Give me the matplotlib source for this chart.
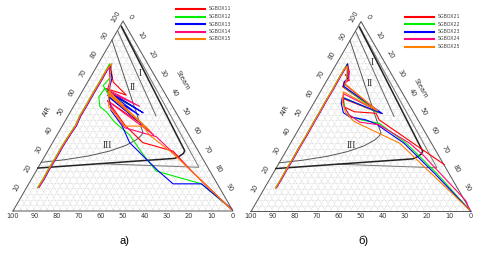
import matplotlib
matplotlib.use("Agg")
import matplotlib.pyplot as plt

# ---------------- data (AIR %, Steam %) ----------------
series_a_names = ["SGBOX11", "SGBOX12", "SGBOX13", "SGBOX14", "SGBOX15"]
series_b_names = ["SGBOX21", "SGBOX22", "SGBOX23", "SGBOX24", "SGBOX25"]
colors = ["#ff0000", "#00ee00", "#0000ff", "#ff0a78", "#ff8000"]

# panel a)
a11_air = [12.5, 17, 22, 28, 34, 40, 45, 50, 56, 62, 68, 74, 77, 68, 61, 64.5, 62, 45, 58, 45, 36, 31.5, 20, 1]
a11_stm = [5.3, 5.5, 5.3, 5.5, 5.4, 5.7, 6.1, 5.5, 5.6, 5.5, 5.6, 5.5, 5.6, 11.5, 21, 10, 12.5, 37, 14, 28.5, 41, 57, 72, 98.6]
a12_air = [12.3, 17, 22, 28, 34, 40, 45, 50, 56, 62, 68, 74, 77.5, 70, 66, 62, 54, 64.5, 60, 55, 52, 47, 40, 30, 21, 14.3, 1]
a12_stm = [5.0, 5.2, 5.0, 5.2, 5.1, 5.4, 5.8, 5.2, 5.3, 5.2, 5.3, 5.2, 5.2, 9, 8, 12, 29, 9.5, 9, 12, 16.6, 22.5, 33, 44, 54.6, 78.5, 98.8]
a13_air = [12.6, 17, 22, 28, 34, 40, 45, 50, 56, 62, 68, 74, 76.5, 70, 63, 51.7, 62, 50.5, 61, 44, 60, 55, 53, 45, 36, 21.2, 14.3, 14.3, 1]
a13_stm = [5.6, 5.8, 5.6, 5.8, 5.7, 6.0, 6.4, 5.8, 5.9, 5.8, 5.9, 5.8, 5.9, 10, 12, 33.3, 13, 32, 12.5, 38.5, 13.5, 17, 18, 27, 35, 55.3, 65.6, 78.5, 99]
a14_air = [12.4, 17, 22, 28, 34, 40, 45, 50, 56, 62, 68, 74, 76, 68, 64, 55.1, 63, 40, 58, 52, 43.8, 39.1, 29, 15, 1]
a14_stm = [5.45, 5.65, 5.45, 5.65, 5.55, 5.85, 6.25, 5.65, 5.75, 5.65, 5.75, 5.65, 5.8, 10, 11, 30, 11.5, 44, 14, 20, 28.9, 45.6, 59.7, 79, 98.7]
a15_air = [12.2, 17, 22, 28, 34, 40, 45, 50, 56, 62, 68, 74, 77.7, 70, 62, 42, 61, 56, 63, 55, 44.7, 44.7, 40, 30, 15, 1]
a15_stm = [5.15, 5.35, 5.15, 5.35, 5.25, 5.55, 5.95, 5.35, 5.45, 5.35, 5.45, 5.35, 6.1, 9, 13, 41.5, 13, 22, 12, 16, 28.5, 36.8, 42, 58, 79, 98.6]

# panel б)
b21_air = [12.5, 17, 22, 28, 34, 40, 46, 52, 58, 64, 70, 75, 77.7, 73.4, 70.8, 72, 69, 68.2, 65.6, 51.7, 59.5, 55, 52.5, 51.7, 48.2, 36, 24.7]
b21_stm = [5.1, 5.2, 5.1, 5.2, 5.1, 5.2, 5.1, 5.1, 5.0, 5.1, 5.0, 5.0, 5.0, 8.0, 8.8, 7, 10.2, 8.3, 8.9, 33, 12, 15, 20.7, 31, 34.2, 55.6, 75.5]
b22_air = [12.4, 17, 22, 28, 34, 40, 46, 52, 58, 64, 70, 75, 77.2, 71, 68, 65.6, 52, 60, 55, 50, 48, 46.4, 36, 20, 0.4]
b22_stm = [4.9, 5.0, 4.9, 5.0, 4.9, 5.0, 4.9, 4.9, 4.8, 4.9, 4.8, 4.8, 5.0, 8.5, 9, 9.5, 32, 12, 15, 20, 27, 35.1, 52.5, 74.5, 99.4]
b23_air = [12.6, 17, 22, 28, 34, 40, 46, 52, 58, 64, 70, 75, 77.7, 73, 70.5, 68.2, 66, 51.5, 60, 57, 52, 49.9, 48.2, 46, 36, 20, 0]
b23_stm = [5.3, 5.4, 5.3, 5.4, 5.3, 5.4, 5.3, 5.3, 5.2, 5.3, 5.2, 5.2, 5.1, 7.5, 9, 8.3, 9, 34, 11.5, 12.5, 16, 19.7, 28.2, 34, 51.5, 73.5, 100]
b24_air = [12.5, 17, 22, 28, 34, 40, 46, 52, 58, 64, 70, 75, 76.5, 73, 70, 67, 53, 62, 56, 51, 47, 45.6, 36, 30, 5.6, 0.8]
b24_stm = [5.2, 5.3, 5.2, 5.3, 5.2, 5.3, 5.2, 5.2, 5.1, 5.2, 5.1, 5.1, 5.5, 8, 9.5, 9, 31, 11, 14, 19, 26, 35.5, 54, 63, 94.9, 99]
b25_air = [12.3, 17, 22, 28, 34, 40, 46, 52, 58, 64, 70, 75, 76.5, 71, 67, 53, 63, 58, 52, 47.3, 36, 0.5]
b25_stm = [5.0, 5.1, 5.0, 5.1, 5.0, 5.1, 5.0, 5.0, 4.9, 5.0, 4.9, 4.9, 5.5, 8, 9.5, 31, 10.5, 12.5, 17, 23.3, 49.5, 99.3]

# region boundaries (same in both diagrams)
black_air = [97, 31.7, 30.3, 28.8, 27.7, 22.6]
black_stm = [0.8, 62.2, 62.3, 61.2, 59.7, 0]
edge_air = [97.5, 23.0, 24.9]
edge_stm = [0.5, 73.0, 27.0]
grayb_air = [95, 50]
grayb_stm = [0, 40]
grayc_air = [90, 41.2, 39.5, 37.5, 34.5, 31.5, 29, 27, 25.6]
grayc_stm = [0, 38.5, 38.3, 37.3, 34, 28, 20, 10, 0]

left_ticks = [10, 20, 30, 40, 50, 60, 70, 80, 90, 100]
right_ticks = [0, 10, 20, 30, 40, 50, 60, 70, 80, 90]
bottom_ticks = [100, 90, 80, 70, 60, 50, 40, 30, 20, 10, 0]

# ---------------- layout ----------------
W, H = 220.0, 190.0
panels = {"a": (13.0, 211.0), "b": (251.0, 211.5)}

fig = plt.figure(figsize=(4.87, 2.58), dpi=100)
ax = fig.add_axes([0, 0, 1, 1])
ax.set_xlim(0, 487)
ax.set_ylim(258, 0)
ax.axis("off")


def proj(air, stm, p):
    x0, y0 = panels[p]
    xs = [x0 + (s + a / 2.0) / 100.0 * W for a, s in zip(air, stm)]
    ys = [y0 - a / 100.0 * H for a in air]
    return xs, ys


def draw_frame(p):
    step = 3.0
    k = step
    while k < 100:
        for air, stm in (([k, k], [0, 100 - k]),
                         ([0, 100 - k], [k, k]),
                         ([0, 100 - k], [100 - k, 0])):
            xs, ys = proj(air, stm, p)
            ax.plot(xs, ys, color="#cccccc", lw=0.45, ls=(0, (1, 1.2)), zorder=1)
        k += step
    xs, ys = proj([0, 100, 0, 0], [0, 0, 100, 0], p)
    ax.plot(xs, ys, color="#555555", lw=0.7, zorder=2)
    for air, stm, c, lw in ((edge_air, edge_stm, "#777777", 0.7),
                            (grayb_air, grayb_stm, "#666666", 0.7),
                            (grayc_air, grayc_stm, "#555555", 0.7),
                            (black_air, black_stm, "#222222", 1.1)):
        xs, ys = proj(air, stm, p)
        ax.plot(xs, ys, color=c, lw=lw, zorder=3)
    for v in left_ticks:
        xs, ys = proj([v], [0], p)
        ax.text(xs[0] - 7.5, ys[0] - 4.5, str(v), fontsize=4.8, color="#333333",
                rotation=60, ha="center", va="center")
    for v in right_ticks:
        xs, ys = proj([100 - v], [v], p)
        ax.text(xs[0] + 7.5, ys[0] - 4.5, str(v), fontsize=4.8, color="#333333",
                rotation=-60, ha="center", va="center")
    for v in bottom_ticks:
        xs, ys = proj([0], [100 - v], p)
        ax.text(xs[0], ys[0] + 5, str(v), fontsize=4.8, color="#333333",
                ha="center", va="center")


draw_frame("a")
draw_frame("b")

ax.text(47, 111, "AIR", fontsize=4.8, rotation=60, ha="center", va="center", color="#333333")
ax.text(285, 110, "AIR", fontsize=4.8, rotation=60, ha="center", va="center", color="#333333")
ax.text(183, 80, "Steam", fontsize=4.8, rotation=-60, ha="center", va="center", color="#333333")
ax.text(421, 88, "Steam", fontsize=4.8, rotation=-60, ha="center", va="center", color="#333333")

reg_a = [("I", 72.6, 21.4), ("II", 65.0, 22.0), ("III", 34.7, 25.4)]
reg_b = [("I", 78.4, 15.8), ("II", 67.4, 20.4), ("III", 34.7, 28.5)]
for p, regs in (("a", reg_a), ("b", reg_b)):
    for t, a, s in regs:
        xs, ys = proj([a], [s], p)
        ax.text(xs[0], ys[0], t, fontsize=7, family="Liberation Serif", color="#333333",
                ha="center", va="center", zorder=6)

sa = [(a11_air, a11_stm), (a12_air, a12_stm), (a13_air, a13_stm), (a14_air, a14_stm), (a15_air, a15_stm)]
sb = [(b21_air, b21_stm), (b22_air, b22_stm), (b23_air, b23_stm), (b24_air, b24_stm), (b25_air, b25_stm)]
for (air, stm), c in zip(sa, colors):
    xs, ys = proj(air, stm, "a")
    ax.plot(xs, ys, color=c, lw=0.8, zorder=5)
for (air, stm), c in zip(sb, colors):
    xs, ys = proj(air, stm, "b")
    ax.plot(xs, ys, color=c, lw=0.8, zorder=5)

for names, lx, ly0 in ((series_a_names, 176, 9), (series_b_names, 405, 16.5)):
    for i, (n, c) in enumerate(zip(names, colors)):
        y = ly0 + i * 7.5
        ax.plot([lx, lx + 29], [y, y], color=c, lw=1.5, zorder=6)
        ax.text(lx + 33, y, n, fontsize=3.4, color="#444444", va="center", ha="left")

ax.text(125, 241, "а)", fontsize=8, family="Liberation Sans", ha="center", va="center")
ax.text(363, 241, "б)", fontsize=8, family="Liberation Sans", ha="center", va="center")

fig.savefig("out.png", dpi=100)
